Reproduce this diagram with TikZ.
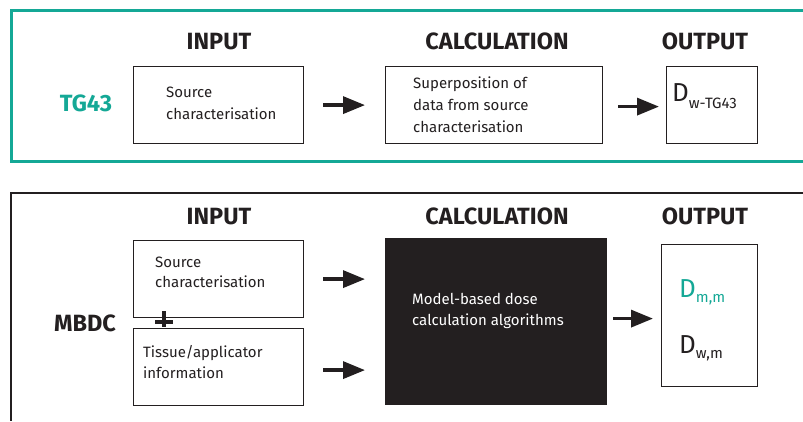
\documentclass[tikz,border=0pt]{standalone}
\usepackage{fontspec}
\setmainfont{Fira Sans}
\usetikzlibrary{arrows.meta}
\definecolor{teal43}{RGB}{20,168,150}
\definecolor{ink}{RGB}{35,31,32}
\begin{document}
\begin{tikzpicture}[x=1pt,y=-1pt,
  box/.style={draw=ink,line width=1.2pt,minimum width=#1,inner sep=0pt,anchor=north west},
  head/.style={anchor=base,text=ink,font=\fontsize{23.5}{27}\selectfont\bfseries,inner sep=0pt},
  body/.style={anchor=base west,text=ink,font=\fontsize{15}{18}\selectfont,inner sep=0pt},
  wbody/.style={body,text=white},
  arr/.style={draw=ink,line width=3.4pt,-{Triangle[length=22pt,width=17pt]}},
  dose/.style={anchor=base west,inner sep=0pt,font=\fontsize{26}{30}\selectfont},
  plusbar/.style={draw=ink,line width=4.5pt},
]
\useasboundingbox (0,0) rectangle (803,421);
\fill[white] (0,0) rectangle (803,421);
% frames
\draw[teal43,line width=3pt] (803,10) -- (11,10) -- (11,161) -- (803,161);
\draw[ink,line width=2.5pt] (803,193) -- (11,193) -- (11,421);

% ---- TG43 row
\node[head] (hin1) at (219,49) {INPUT};
\node[head] (hca1) at (497,49) {CALCULATION};
\node[head] (hou1) at (705,49) {OUTPUT};
\node[head,text=teal43] (tg) at (86,111) {TG43};

\node[box=170pt,minimum height=77pt] (src1) at (133,66) {};
\node[body] (s1a) at (166,97) {Source};
\node[body] (s1b) at (166,119) {characterisation};

\node[box=217pt,minimum height=77pt] (cal1) at (385,66) {};
\node[body] (c1a) at (413,88) {Superposition of};
\node[body] (c1b) at (413,110) {data from source};
\node[body] (c1c) at (413,132) {characterisation};

\node[box=91pt,minimum height=77pt] (out1) at (666,66) {};
\node[dose,text=ink] (d1) at (672,101) {D\raisebox{-7pt}{\fontsize{15}{17}\selectfont w-TG43}};

\draw[arr,shorten <=19pt,shorten >=20pt] (src1.east) -- (cal1.west);
\draw[arr,shorten <=15pt,shorten >=7pt] ([yshift=-1.5pt]cal1.east) -- ([yshift=-1.5pt]out1.west);

% ---- MBDC row
\node[head] (hin2) at (219,224) {INPUT};
\node[head] (hca2) at (497,224) {CALCULATION};
\node[head] (hou2) at (705,224) {OUTPUT};
\node[head] (mb) at (85,331) {MBDC};

\node[box=170pt,minimum height=77pt] (src2) at (133,240) {};
\node[body] (s2a) at (155,267) {Source};
\node[body] (s2b) at (155,287) {characterisation};

\node[box=170pt,minimum height=77pt] (tis) at (133,328) {};
\node[body] (t2a) at (143,357) {Tissue/applicator};
\node[body] (t2b) at (143,378) {information};

% plus sign between the two input boxes
\coordinate (plus) at (164,322);
\draw[plusbar] ([xshift=-9pt]plus) -- ([xshift=9pt]plus);
\draw[plusbar] ([yshift=-4.5pt]plus) -- ([yshift=11pt]plus);

\node[box=221pt,minimum height=166pt,fill=ink] (alg) at (385,238) {};
\node[wbody] (a2a) at (412,304) {Model-based dose};
\node[wbody] (a2b) at (412,325) {calculation algorithms};

\node[box=96pt,minimum height=142pt] (out2) at (661,244) {};
\node[dose,text=teal43] (d2) at (679,297) {D\raisebox{-5pt}{\fontsize{15}{17}\selectfont m,m}};
\node[dose,text=ink] (d3) at (679,353) {D\raisebox{-5pt}{\fontsize{15}{17}\selectfont w,m}};

\draw[arr,shorten <=19pt,shorten >=20pt] (src2.east) -- (src2.east -| alg.west);
\draw[arr,shorten <=19pt,shorten >=20pt] ([yshift=-3pt]tis.east) -- ([yshift=-3pt]tis.east -| alg.west);
\draw[arr,shorten <=6pt,shorten >=8pt] ([yshift=-3pt]out2.west -| alg.east) -- ([yshift=-3pt]out2.west);
\end{tikzpicture}
\end{document}
